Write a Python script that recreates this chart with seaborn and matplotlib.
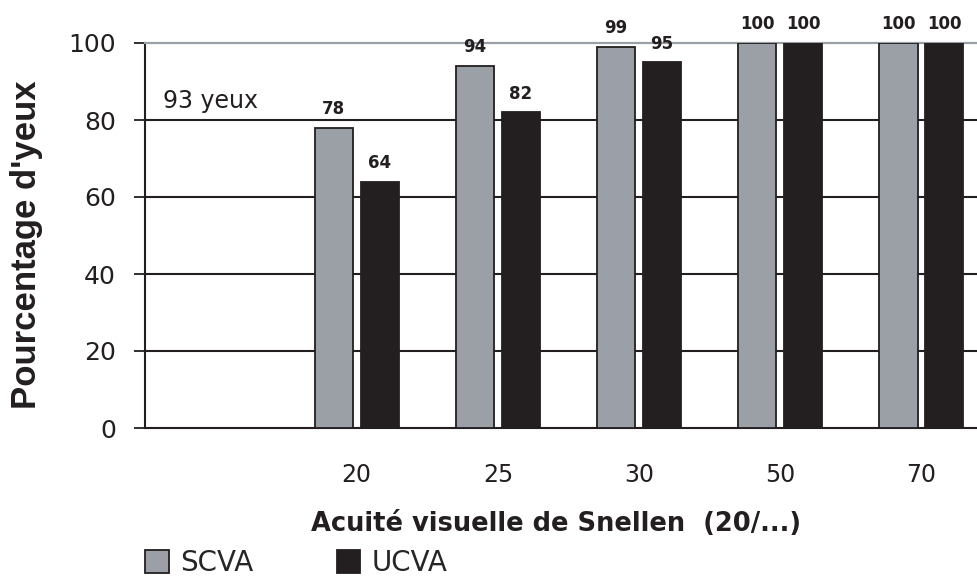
import matplotlib.pyplot as plt
from matplotlib.ticker import FixedLocator
import pandas as pd
import seaborn as sns

# donnees
categories = ["", "20", "25", "30", "50", "70"]
acuite = ["20", "25", "30", "50", "70"]
scva = [78, 94, 99, 100, 100]
ucva = [64, 82, 95, 100, 100]
series_names = ["SCVA", "UCVA"]
y_ticks = [0, 20, 40, 60, 80, 100]
boundaries = [-0.5, 0.5, 1.5, 2.5, 3.5, 4.5]

df = pd.DataFrame({
    "acuite": acuite * 2,
    "pourcentage": scva + ucva,
    "groupe": [series_names[0]] * len(scva) + [series_names[1]] * len(ucva),
})

gris = "#9aa0a6"
noir = "#231f20"
police_large = ["DejaVu Sans"]      # texte espace dans l'original
police_titre = ["Liberation Sans", "DejaVu Sans"]

sns.set_style("white")
plt.rcParams["font.family"] = police_large

fig = plt.figure(figsize=(9.78, 5.79), dpi=100)
ax = fig.add_axes([145 / 978, 151 / 579, 847 / 978, 385 / 579])

sns.barplot(data=df, x="acuite", y="pourcentage", hue="groupe",
            order=categories, hue_order=series_names,
            palette={"SCVA": gris, "UCVA": noir}, width=0.65, gap=0.17,
            edgecolor=noir, linewidth=1.3, saturation=1, errorbar=None,
            zorder=3, ax=ax)

ax.set_xlim(-0.5, 5.5)
ax.set_ylim(0, 100)
ax.set_yticks(y_ticks)

# grille horizontale
ax.yaxis.grid(True, color=noir, linewidth=1.5)
gl = ax.get_ygridlines()
gl[0].set_visible(False)
gl[-1].set_visible(False)

for s in ["left", "bottom"]:
    ax.spines[s].set_color(noir)
    ax.spines[s].set_linewidth(1.5)
ax.spines["top"].set_color(gris)
ax.spines["top"].set_linewidth(1.6)
ax.spines["right"].set_visible(False)

ax.xaxis.set_minor_locator(FixedLocator(boundaries))
ax.tick_params(axis="x", which="major", length=0, pad=25, labelsize=17, labelcolor=noir)
ax.tick_params(axis="x", which="minor", length=7, width=1.3, color=noir, direction="out")
ax.tick_params(axis="y", length=8, width=1.3, color=noir, direction="out",
               pad=13, labelsize=18, labelcolor=noir, left=True)

for c in ax.containers:
    ax.bar_label(c, fmt="%d", padding=7, fontsize=12, fontweight="bold", color=noir)

ax.text(-0.37, 83, "93 yeux", fontsize=17, ha="left", va="baseline", color=noir)

ax.set_ylabel("Pourcentage d'yeux", fontsize=25, fontweight="bold", color=noir,
              family=police_titre)
ax.yaxis.set_label_coords(-0.12, 0.475)
ax.set_xlabel("Acuité visuelle de Snellen  (20/...)", fontsize=18.5, fontweight="bold",
              color=noir)
ax.xaxis.set_label_coords(0.485, -0.215)

sns.move_legend(ax, "lower left", bbox_to_anchor=(145 / 978, 0.003),
                bbox_transform=fig.transFigure, ncol=2, frameon=False, title=None,
                fontsize=20, handlelength=0.86, handleheight=0.86, handletextpad=0.4,
                columnspacing=3.0, borderaxespad=0, borderpad=0.0)

fig.savefig("out.png", dpi=100, facecolor="white")
